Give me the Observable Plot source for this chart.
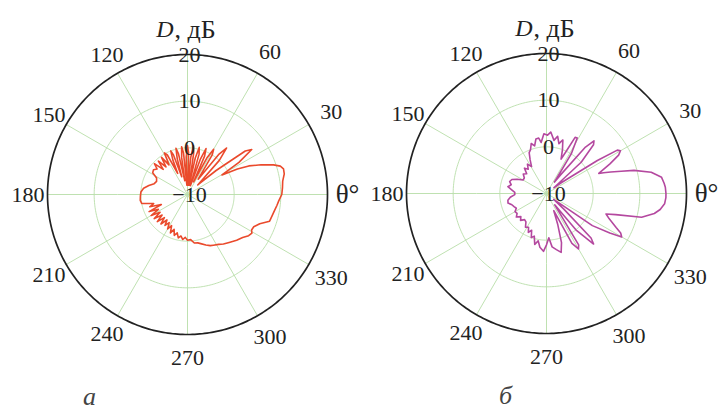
<!DOCTYPE html>
<html><head><meta charset="utf-8">
<script src="https://cdn.jsdelivr.net/npm/d3@7"></script>
<script src="https://cdn.jsdelivr.net/npm/@observablehq/plot@0.6"></script>
<style>
html,body{margin:0;padding:0;background:#fff;}
#wrap{position:relative;width:720px;height:412px;}
.panel{position:absolute;top:0;}
.cap{position:absolute;font-family:"Liberation Serif",serif;font-style:italic;font-size:26px;color:#444;line-height:26px;}
svg text{font-family:"Liberation Serif",serif;}
</style></head><body>
<div id="wrap">
 <div class="panel" id="pa" style="left:0"></div>
 <div class="panel" id="pb" style="left:360px"></div>
 <div class="cap" style="left:83px;top:384px">а</div>
 <div class="cap" style="left:499px;top:383px">б</div>
</div>
<script>
// Panel a: angle (deg) and directivity D (dB)
const thetaA = [0,4,8,12,15,17,19,22,25,27,
  29.5,32,35,37,40,43,47,50,52,55,
  58,60,62,64,66,68,70,72,74,76,
  78,80,81.5,83,85,87,88.5,90,92,94,
  95.5,97,99,101,102.5,104,106,108,109.5,111,
  113,115,117,119,122,125,128,131,134,137,
  140,144,148,152,157,162,167,172,177,182,
  187,191,195,198,201,204,207,210,213,216,
  219,222,225,228,231,234,237,240,243,246,
  249,252,255,258,261,264,267,270,274,278,
  282,285,290,294,297,302,306,311,317,322,
  326,329,331,334,338,342,346,350,353,356,
  360];
const dbA = [10.2,10.4,10.6,11.2,11.3,10.8,9.5,7,4.5,2,
  -1.5,3,6.8,5.5,-2,-7,0,3,1,-6,
  0,1.2,-1,-7,-1,0.6,-2,-8,-1,0.4,
  -2,-8,-1,0.5,-2,-8,-1,0.5,-2,-8,
  -1,0.3,-2,-7,-1,0.2,-2,-6,-1,0,
  -2,-5,-0.5,0.2,-2.5,-0.3,-2.5,-0.5,-2.5,-0.3,
  -1.5,-1,-1.2,-2.5,-2.8,-2.5,-1.5,-0.5,0,0.1,
  0.2,0,-2.5,-1.5,-4,-1,-3,-1,-3,-1.2,
  -3,-1.3,-3,-1.5,-3,-1.8,-2.8,-1.5,-2.5,-1,
  -2,-0.8,-1.5,-0.5,-1,-0.3,-0.8,-0.2,-0.3,0.5,
  0.6,0.9,1.5,2,2.2,2.6,3.1,3.6,4.4,5,
  5.8,6.1,5.7,5.8,6.7,8.5,8.7,9,9.3,9.6,
  10.2];
// Panel b
const thetaB = [0,3,5,8,11.5,14.8,16.6,18.5,20,21,
  25,28,30,31.5,33,36,38,42,46,48,
  50,53,55,58,61,63,65,67,70,73,
  76,79,82,86,89,92.5,96,98,101,104,
  107,110,113,116,119,123,127,131,135,140,
  145,150,154,158,162,166,170,174,178,182,
  186,190,194,198,202,206,210,214,218,222,
  226,230,234,238,242,245,248,251,254,257,
  260,263,267,270,273,276,280,284,287,290,
  293,297,300,302,304,306,309,313,315,318,
  321,325,328,330,332,334,336,338,341,343,
  346,349.5,352,355,358,360];
const dbB = [15.6,15.5,15.3,14.9,12.9,9.4,6.7,4.5,3,2,
  5,7.5,8.3,7.8,3,-6,-8,0,4.5,5.2,
  3,-5,-7,0,3.6,3.5,0,-2,0,2,
  1,2.5,1.5,3.2,2.5,2.8,1,2,1.9,0.5,
  1.2,0,-0.5,-2,-3.4,-2.5,-3.5,-2.8,-4,-3.5,
  -4.2,-4.2,-3,-2,-1.7,-2.2,-1.6,-2.5,-3.2,-3.2,
  -2.2,-1.6,-1.5,-2.2,-2.5,-2.8,-2.2,-2.4,-1.8,-2.6,
  -2,-2.7,-2.5,-1.5,-1.8,-0.8,-1.5,0,-0.5,1.2,
  0.3,1.6,2.4,1,-0.5,1.5,2.2,3,1,-3,
  -6,2,3.7,3,-5,-7,0,4.8,3.5,-5,
  -8,2,6,8.6,8,6.6,5.5,4.5,3.5,5.5,
  11,13.5,14.6,15.4,15.6,15.6];

const spokeAngles = [0,30,60,90,120,150,180,210,240,270,300,330];
const labelAngles = [0,30,60,120,150,180,210,240,270,300,330];
const labelTexts  = ["θ°","30","60","120","150","180","210","240","270","300","330"];
const radialTicks = [-10,0,10,20];
const gridRings = [0,10];
const axisTitleD = "D";
const axisTitleUnit = ", дБ";

const FONT = "Liberation Serif";
const R0 = -10, R1 = 20, RDOM = 36;
const SCALE = 140 / (R1 - R0);
const GRID = "#b8dea8";
const lonOf = t => t + 90;
const latOf = d => 90 - (d - R0);
const ring = v => d3.geoCircle().center([0, 90]).radius(v - R0).precision(1)();

function panel(theta, db, color, cx, cy) {
  const pts = theta.map((t, i) => ({lon: lonOf(t), lat: latOf(db[i])}));
  const spokes = spokeAngles.map(t => ({lon: lonOf(t)}));
  const labs = labelAngles.map((t, i) => {
    const rpx = t === 0 ? 160 : 163 + 3.5 * Math.cos(t * Math.PI / 180);
    return {lon: lonOf(t), lat: 90 - rpx / SCALE, text: labelTexts[i], big: t === 0};
  });
  const rlabs = radialTicks.map(v => ({lon: 180, lat: latOf(v), text: v < 0 ? "\u2212" + Math.abs(v) : String(v)}));
  const title = [{lon: 180, lat: 90 - 165 / SCALE}];
  const frame = 2 * RDOM * SCALE;
  const txt = {fontFamily: FONT, fill: "#222"};
  return Plot.plot({
    width: 360, height: 412,
    marginLeft: cx - frame / 2, marginTop: cy - frame / 2,
    marginRight: 360 - cx - frame / 2, marginBottom: 412 - cy - frame / 2,
    projection: {type: "azimuthal-equidistant", rotate: [0, -90],
      domain: d3.geoCircle().center([0, 90]).radius(RDOM)()},
    style: {fontFamily: FONT, fontSize: "22px", color: "#222", background: "transparent"},
    marks: [
      Plot.geo(gridRings.map(ring), {stroke: GRID, fill: "none", strokeWidth: 0.9}),
      Plot.link(spokes, {x1: "lon", y1: () => 90, x2: "lon", y2: () => latOf(R1), stroke: GRID, strokeWidth: 0.9}),
      Plot.geo([ring(R1)], {stroke: "#222", fill: "none", strokeWidth: 1.7}),
      Plot.line(pts, {x: "lon", y: "lat", stroke: color, strokeWidth: 1.6}),
      Plot.text(labs.filter(d => !d.big), {x: "lon", y: "lat", text: "text", fontSize: 22, ...txt}),
      Plot.text(labs.filter(d => d.big), {x: "lon", y: "lat", text: "text", fontSize: 27, ...txt}),
      Plot.text(rlabs, {x: "lon", y: "lat", text: "text", fontSize: 22, dx: 2, ...txt}),
      Plot.text(title, {x: "lon", y: "lat", text: () => axisTitleD, fontSize: 24, fontStyle: "italic", textAnchor: "end", dx: -14, ...txt}),
      Plot.text(title, {x: "lon", y: "lat", text: () => axisTitleUnit, fontSize: 26, textAnchor: "start", dx: -13, ...txt})
    ]
  });
}

document.getElementById("pa").append(panel(thetaA, dbA, "#ea4a2c", 187, 194));
document.getElementById("pb").append(panel(thetaB, dbB, "#b4489f", 186, 193));
</script>
</body></html>
